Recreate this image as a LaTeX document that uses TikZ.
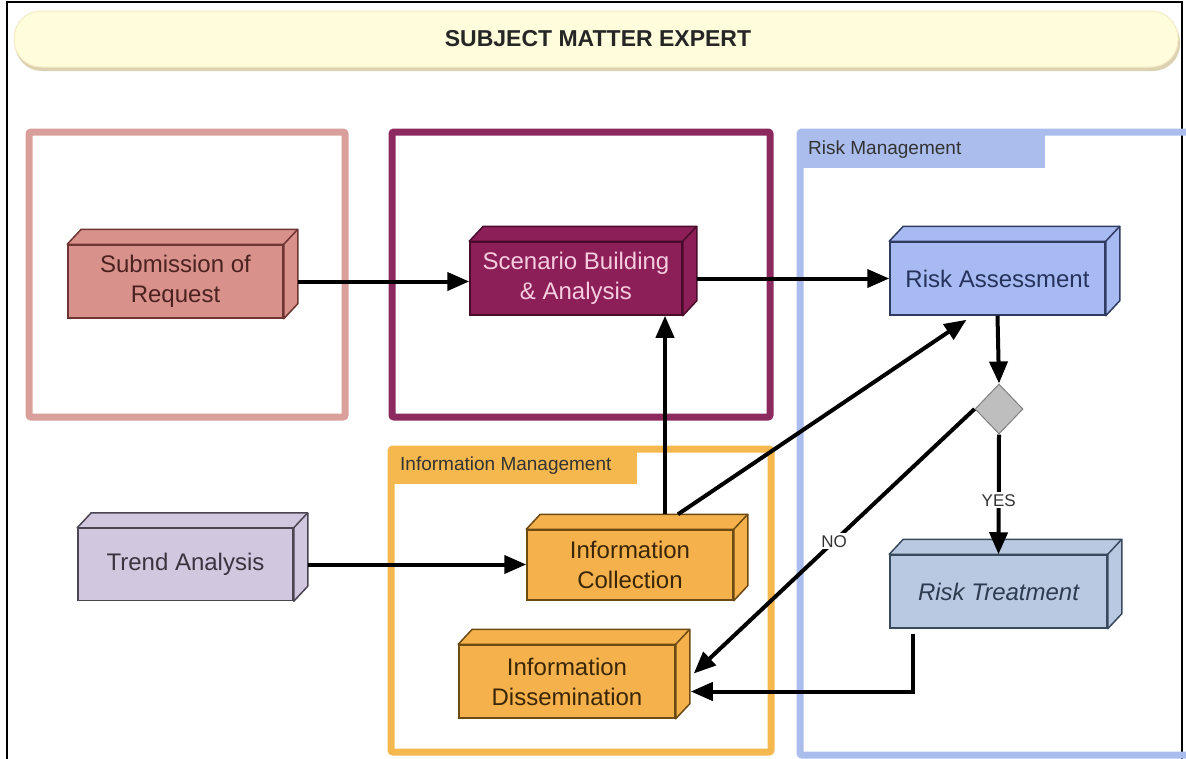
\documentclass[tikz,border=0pt]{standalone}
\usepackage{fontspec}
\setmainfont{Liberation Sans}
\usetikzlibrary{arrows.meta,calc,shapes.geometric}
\definecolor{subfill}{HTML}{D9918C}
\definecolor{subline}{HTML}{6E3533}
\definecolor{subtext}{HTML}{4A2220}
\definecolor{scenfill}{HTML}{8C1E58}
\definecolor{scenline}{HTML}{4A0C2C}
\definecolor{scentext}{HTML}{F6CDE0}
\definecolor{rafill}{HTML}{A8BAF2}
\definecolor{raline}{HTML}{2F3B60}
\definecolor{ratext}{HTML}{25335C}
\definecolor{trfill}{HTML}{D1C7DF}
\definecolor{trline}{HTML}{4B4553}
\definecolor{trtext}{HTML}{3A3440}
\definecolor{infofill}{HTML}{F5B14B}
\definecolor{infoline}{HTML}{6B4A14}
\definecolor{infotext}{HTML}{3A2608}
\definecolor{rtfill}{HTML}{B8C9E1}
\definecolor{rtline}{HTML}{3A4A5E}
\definecolor{rttext}{HTML}{2E3B50}
\definecolor{pinkframe}{HTML}{D9A09B}
\definecolor{purpleframe}{HTML}{8C2A60}
\definecolor{blueframe}{HTML}{AABDEC}
\definecolor{orangeframe}{HTML}{F5B84F}
\definecolor{banner}{HTML}{FFFDDB}
\definecolor{bannershadow}{HTML}{DCD2B2}
\definecolor{diafill}{HTML}{BEBEBE}
\definecolor{labeltext}{HTML}{333333}
\newcommand{\cubefaces}[3]{%
  \draw[fill=#2, draw=#3, line width=1.5pt, line join=round]
    (#1.north west) -- ([shift={(14pt,15pt)}]#1.north west)
    -- ([shift={(14pt,15pt)}]#1.north east)
    -- ([shift={(14pt,15pt)}]#1.south east)
    -- (#1.south east) -- (#1.north east) -- cycle;
  \draw[draw=#3, line width=1.5pt] (#1.north east) -- ([shift={(14pt,15pt)}]#1.north east);
}
\tikzset{
  cube/.style n args={3}{draw=#2, fill=#1, text=#3, line width=1.5pt,
    minimum height=73pt, inner sep=0pt, align=center,
    font=\fontsize{24}{30}\selectfont},
  frame/.style={line width=7pt, rounded corners=2pt},
  tab/.style={font=\fontsize{19}{22}\selectfont, text=labeltext, anchor=west, inner sep=0pt},
  arr/.style={line width=4pt, -{Triangle[length=22pt,width=18pt]}},
  lbl/.style={fill=white, inner sep=2pt, font=\fontsize{17}{20}\selectfont, text=labeltext}
}
\begin{document}
\begin{tikzpicture}[x=1pt,y=-1pt]
\useasboundingbox (0,0) rectangle (1186,758);
% outer frame
\draw[line width=2pt] (7,760) -- (7,2) -- (1182,2) -- (1182,760);
% banner
\fill[bannershadow, rounded corners=27pt] (15,15) rectangle (1180,71);
\draw[fill=banner, draw=banner!85!brown, line width=1pt, rounded corners=27pt] (14,11) rectangle (1178,67);
\node[font=\fontsize{23}{26}\selectfont\bfseries, text=black!85] (title) at (598,39) {SUBJECT MATTER EXPERT};
% containers
\draw[frame, draw=pinkframe] (29,132) rectangle (345,417);
\draw[frame, draw=purpleframe] (392,132) rectangle (770,417);
\fill[blueframe] (800,132) rectangle (1045,168);
\draw[frame, draw=blueframe] (800,132) rectangle (1195,755);
\node[tab] (rmlabel) at (808,150) {Risk Management};
\fill[orangeframe] (391,449) rectangle (637,484);
\draw[frame, draw=orangeframe] (391,449) rectangle (771,752);
\node[tab] (imlabel) at (400,466) {Information Management};
% nodes
\node[cube={subfill}{subline}{subtext}, minimum width=215pt] (sub) at (175.5,281.5) {Submission of\\Request};
\cubefaces{sub}{subfill}{subline}
\node[cube={scenfill}{scenline}{scentext}, minimum width=212pt] (scen) at (576,278.5) {Scenario Building\\\& Analysis};
\cubefaces{scen}{scenfill}{scenline}
\node[cube={rafill}{raline}{ratext}, minimum width=215pt] (ra) at (997.5,278.5) {Risk Assessment};
\cubefaces{ra}{rafill}{raline}
\node[cube={trfill}{trline}{trtext}, minimum width=215pt, minimum height=72pt] (trend) at (185.5,564.5) {Trend Analysis};
\cubefaces{trend}{trfill}{trline}
\node[cube={infofill}{infoline}{infotext}, minimum width=206pt, minimum height=70pt] (ic) at (630,565) {Information\\Collection};
\cubefaces{ic}{infofill}{infoline}
\node[cube={infofill}{infoline}{infotext}, minimum width=216pt] (idis) at (567,681.5) {Information\\Dissemination};
\cubefaces{idis}{infofill}{infoline}
\node[cube={rtfill}{rtline}{rttext}, minimum width=217pt, font=\fontsize{24}{30}\selectfont\itshape] (rt) at (998.5,591.5) {Risk Treatment};
\cubefaces{rt}{rtfill}{rtline}
\node[diamond, draw=gray, fill=diafill, line width=1pt, minimum width=48pt, minimum height=50pt, inner sep=0pt] (dia) at (999,409) {};
% connectors
\draw[arr] ([xshift=14pt]sub.east) -- (scen.west |- sub.east);
\draw[arr] ([xshift=14pt]scen.east) -- (ra.west);
\draw[arr] ([xshift=35pt,yshift=15pt]ic.north) -- ([xshift=89pt]scen.south);
\draw[arr] ([xshift=48pt,yshift=15pt]ic.north) -- ([xshift=-31pt,yshift=-4pt]ra.south);
\draw[arr] (ra.south) -- (dia.north);
\draw[arr] (dia.south) -- node[lbl, pos=0.55] {YES} (rt.north);
\draw[arr] (dia.west) -- node[lbl, pos=0.5] {NO} ([xshift=18pt,yshift=8pt]idis.east);
\draw[arr] ([xshift=-86pt,yshift=-5pt]rt.south) |- ([xshift=15pt,yshift=-10pt]idis.east);
\draw[arr] ([xshift=14pt]trend.east) -- (ic.west |- trend.east);
\end{tikzpicture}
\end{document}
